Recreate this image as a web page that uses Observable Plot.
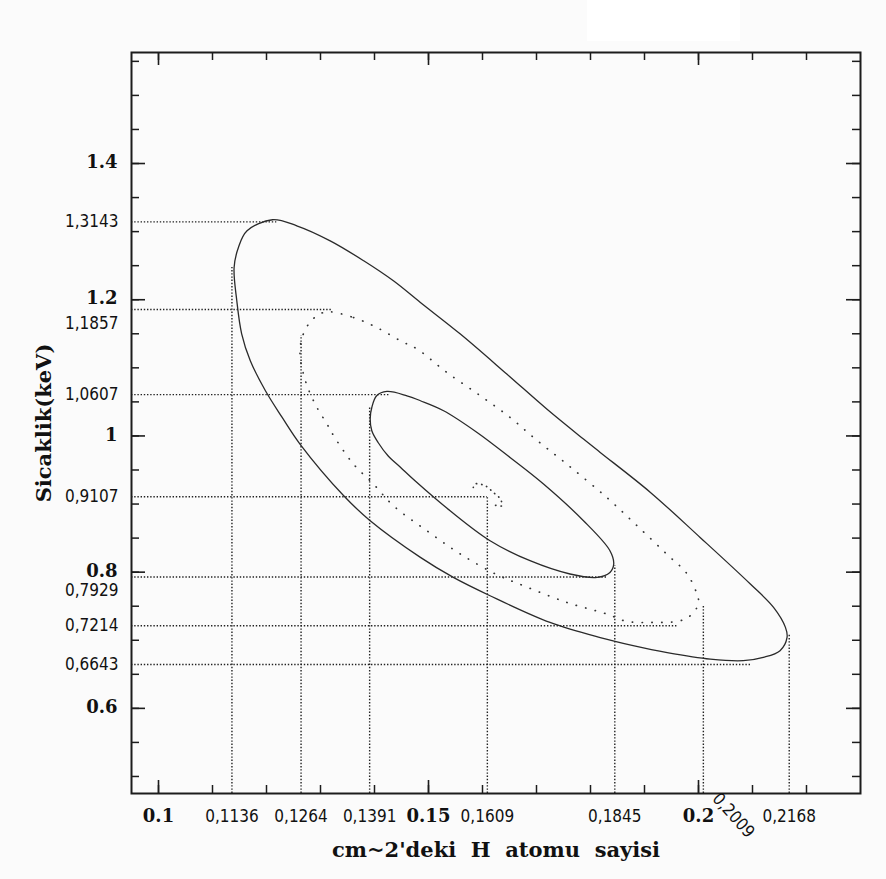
<!DOCTYPE html>
<html><head><meta charset="utf-8">
<script src="https://cdn.jsdelivr.net/npm/d3@7"></script>
<script src="https://cdn.jsdelivr.net/npm/@observablehq/plot@0.6"></script>
<style>
html,body{margin:0;padding:0;background:#fbfbfb;}
#wrap{position:relative;width:886px;height:879px;overflow:hidden;}
#patch{position:absolute;left:587px;top:0;width:153px;height:41px;background:#fff;}
g[aria-label="x title"] text{letter-spacing:2.6px;white-space:pre;}
g[aria-label="y title"] text{letter-spacing:3px;}
g[aria-label="custom labels"] text{font-stretch:condensed;letter-spacing:-0.3px;}
</style></head><body>
<div id="wrap"><div id="chart"></div><div id="patch"></div></div>
<script>
// ---- axis text ----
const xTitle = "cm~2'deki  H  atomu  sayisi";
const yTitle = "Sicaklik(keV)";
const xMajorTicks = [0.1, 0.15, 0.2];
const xMajorLabels = ["0.1", "0.15", "0.2"];
const yMajorTicks = [0.6, 0.8, 1.0, 1.2, 1.4];
const yMajorLabels = ["0.6", "0.8", "1", "1.2", "1.4"];
const xMarkValues = [0.1136, 0.1264, 0.1391, 0.1609, 0.1845, 0.2009, 0.2168];
const xMarkLabels = ["0,1136", "0,1264", "0,1391", "0,1609", "0,1845", "0,2009", "0,2168"];
const yMarkValues = [1.3143, 1.1857, 1.0607, 0.9107, 0.7929, 0.7214, 0.6643];
const yMarkLabels = ["1,3143", "1,1857", "1,0607", "0,9107", "0,7929", "0,7214", "0,6643"];
// where the dotted guide lines stop
const hGuideXEnd = [0.1219, 0.1321, 0.1429, 0.1609, 0.1830, 0.1963, 0.2099];
const vGuideYEnd = [1.2473, 1.1470, 1.0418, 0.9107, 0.8095, 0.7507, 0.7092];

// ---- contours (x = H column, y = kT) ----
const outerContour = [
 [0.1211,1.3174],[0.1256,1.3086],[0.1318,1.2865],[0.1380,1.2572],[0.1435,1.2278],[0.1485,1.1960],
 [0.1559,1.1496],[0.1645,1.0909],[0.1719,1.0395],[0.1787,0.9954],[0.1818,0.9758],[0.1911,0.9171],
 [0.2003,0.8510],[0.2096,0.7826],[0.2139,0.7483],[0.2161,0.7189],[0.2164,0.7042],[0.2151,0.6847],
 [0.2120,0.6749],[0.2083,0.6700],[0.2022,0.6722],[0.1942,0.6818],[0.1879,0.6920],[0.1818,0.7038],
 [0.1725,0.7262],[0.1614,0.7654],[0.1546,0.7923],[0.1485,0.8217],[0.1392,0.8755],[0.1343,0.9122],
 [0.1262,0.9881],[0.1229,1.0272],[0.1198,1.0663],[0.1170,1.1104],[0.1154,1.1500],[0.1145,1.1985],
 [0.1140,1.2473],[0.1148,1.2767],[0.1164,1.3012]
];
const middleContour = [
 [0.1314,1.1823],[0.1361,1.1739],[0.1404,1.1593],[0.1448,1.1397],[0.1479,1.1276],[0.1534,1.0932],
 [0.1596,1.0590],[0.1651,1.0272],[0.1698,0.9954],[0.1756,0.9587],[0.1830,0.9097],[0.1886,0.8682],
 [0.1941,0.8266],[0.1979,0.7973],[0.1997,0.7679],[0.2000,0.7532],[0.1981,0.7336],[0.1960,0.7277],
 [0.1911,0.7262],[0.1867,0.7277],[0.1830,0.7386],[0.1756,0.7556],[0.1676,0.7801],[0.1624,0.7973],
 [0.1559,0.8266],[0.1497,0.8608],[0.1435,0.8975],[0.1398,0.9294],[0.1361,0.9587],[0.1327,0.9969],
 [0.1312,1.0175],[0.1290,1.0468],[0.1272,1.0810],[0.1262,1.1202],[0.1266,1.1446],[0.1278,1.1643],
 [0.1296,1.1779]
];
const innerContour = [
 [0.1423,1.0653],[0.1460,1.0590],[0.1485,1.0517],[0.1528,1.0370],[0.1590,1.0051],[0.1651,0.9684],
 [0.1713,0.9294],[0.1787,0.8755],[0.1836,0.8315],[0.1843,0.8120],[0.1836,0.7996],[0.1812,0.7923],
 [0.1762,0.7973],[0.1688,0.8168],[0.1614,0.8462],[0.1540,0.8902],[0.1475,0.9342],[0.1448,0.9541],
 [0.1425,0.9709],[0.1407,0.9900],[0.1395,1.0076],[0.1392,1.0252],[0.1395,1.0418],[0.1404,1.0590]
];
const centerMark = [
 [0.1583,0.9244],[0.1586,0.9294],[0.1605,0.9269],[0.1620,0.9171],[0.1633,0.9074],[0.1636,0.8975],[0.1620,0.8990]
];

// ---- layout ----
const W = 886, H = 879, mL = 131, mR = 26, mT = 52, mB = 86;
const plotW = W - mL - mR, plotH = H - mT - mB;
const xDomain = [0.095, 0.23], yDomain = [0.475, 1.563];
const xTicks = d3.range(10, 23).map(i => i / 100);
const yTicks = d3.range(10, 32).map(i => i * 0.05);
const ink = "#1c1c1c";

const hGuides = yMarkValues.map((y, i) => ({y, x2: hGuideXEnd[i]}));
const vGuides = xMarkValues.map((x, i) => ({x, y2: vGuideYEnd[i]}));
const xLab = xMarkValues.map((v, i) => ({v, t: xMarkLabels[i]}));
const yLab = yMarkValues.map((v, i) => ({v, t: yMarkLabels[i]}));
const nearX = d => xMajorTicks.some(m => Math.abs(m - d.v) < 0.005);
const nearY = d => yMajorTicks.some(m => Math.abs(m - d.v) < 0.02);

const guideStyle = {stroke: "#222", strokeWidth: 1.4, strokeDasharray: "1.4,1.8"};
const customFont = {fontFamily: "'DejaVu Sans Condensed','DejaVu Sans',sans-serif", fontSize: 17, fill: "#111", lineAnchor: "middle"};
const majorFont = {fontFamily: "'DejaVu Serif',serif", fontSize: 18, fontWeight: "bold", fill: "#111", lineAnchor: "middle"};
const titleFont = {fontFamily: "'DejaVu Serif',serif", fontSize: 21, fontWeight: "bold", fill: "#111", lineAnchor: "middle", textAnchor: "middle"};

const chart = Plot.plot({
  width: W, height: H, marginLeft: mL, marginRight: mR, marginTop: mT, marginBottom: mB,
  x: {domain: xDomain, axis: null},
  y: {domain: yDomain, axis: null},
  style: {background: "#fbfbfb", overflow: "visible"},
  marks: [
    // dotted guide lines
    Plot.ruleY(hGuides, {y: "y", x1: xDomain[0], x2: "x2", ...guideStyle}),
    Plot.ruleX(vGuides, {x: "x", y1: yDomain[0], y2: "y2", ...guideStyle}),
    // contours
    Plot.line(outerContour, {x: d => d[0], y: d => d[1], curve: "catmull-rom-closed", stroke: "#2a2a2a", strokeWidth: 1.3}),
    Plot.line(innerContour, {x: d => d[0], y: d => d[1], curve: "catmull-rom-closed", stroke: "#2a2a2a", strokeWidth: 1.3}),
    Plot.line(middleContour, {x: d => d[0], y: d => d[1], curve: "catmull-rom-closed", stroke: "#333", strokeWidth: 1.7, strokeDasharray: "0.3,9.5", strokeLinecap: "round"}),
    Plot.line(centerMark, {x: d => d[0], y: d => d[1], curve: "catmull-rom", stroke: "#333", strokeWidth: 1.7, strokeDasharray: "0.3,5", strokeLinecap: "round"}),
    // frame and inward ticks on four sides
    Plot.frame({stroke: ink, strokeWidth: 2}),
    Plot.tickX(xTicks, {x: d => d, insetTop: plotH - 8, stroke: ink, strokeWidth: 1.5}),
    Plot.tickX(xTicks, {x: d => d, insetBottom: plotH - 8, stroke: ink, strokeWidth: 1.5}),
    Plot.tickX(xMajorTicks, {x: d => d, insetTop: plotH - 13, stroke: ink, strokeWidth: 1.6}),
    Plot.tickX(xMajorTicks, {x: d => d, insetBottom: plotH - 13, stroke: ink, strokeWidth: 1.6}),
    Plot.tickY(yTicks, {y: d => d, insetRight: plotW - 8, stroke: ink, strokeWidth: 1.5}),
    Plot.tickY(yTicks, {y: d => d, insetLeft: plotW - 8, stroke: ink, strokeWidth: 1.5}),
    Plot.tickY(yMajorTicks, {y: d => d, insetRight: plotW - 14, stroke: ink, strokeWidth: 1.6}),
    Plot.tickY(yMajorTicks, {y: d => d, insetLeft: plotW - 14, stroke: ink, strokeWidth: 1.6}),
    // major tick labels
    Plot.text(xMajorTicks, {x: d => d, text: (d, i) => xMajorLabels[i], frameAnchor: "bottom", dy: 23, textAnchor: "middle", ...majorFont}),
    Plot.text(yMajorTicks, {y: d => d, text: (d, i) => yMajorLabels[i], frameAnchor: "left", dx: -14, textAnchor: "end", dy: -1, ...majorFont}),
    // value labels of the guide lines
    Plot.text(xLab.filter(d => !nearX(d)), {x: "v", text: "t", frameAnchor: "bottom", dy: 23, textAnchor: "middle", ...customFont, ariaLabel: "custom labels"}),
    Plot.text(xLab.filter(nearX), {x: "v", text: "t", frameAnchor: "bottom", dy: 22, dx: 30, rotate: 48, textAnchor: "middle", ...customFont, ariaLabel: "custom labels"}),
    Plot.text(yLab.filter(d => !nearY(d)), {y: "v", text: "t", frameAnchor: "left", dx: -13, textAnchor: "end", ...customFont, ariaLabel: "custom labels"}),
    Plot.text(yLab.filter(nearY), {y: "v", text: "t", frameAnchor: "left", dx: -13, dy: 14, textAnchor: "end", ...customFont, ariaLabel: "custom labels"}),
    // axis titles
    Plot.text([xTitle], {text: d => d, frameAnchor: "bottom", dy: 57, ...titleFont, ariaLabel: "x title"}),
    Plot.text([yTitle], {text: d => d, frameAnchor: "left", dx: -87, rotate: -90, ...titleFont, ariaLabel: "y title"})
  ]
});
document.getElementById("chart").appendChild(chart);
</script>
</body></html>
